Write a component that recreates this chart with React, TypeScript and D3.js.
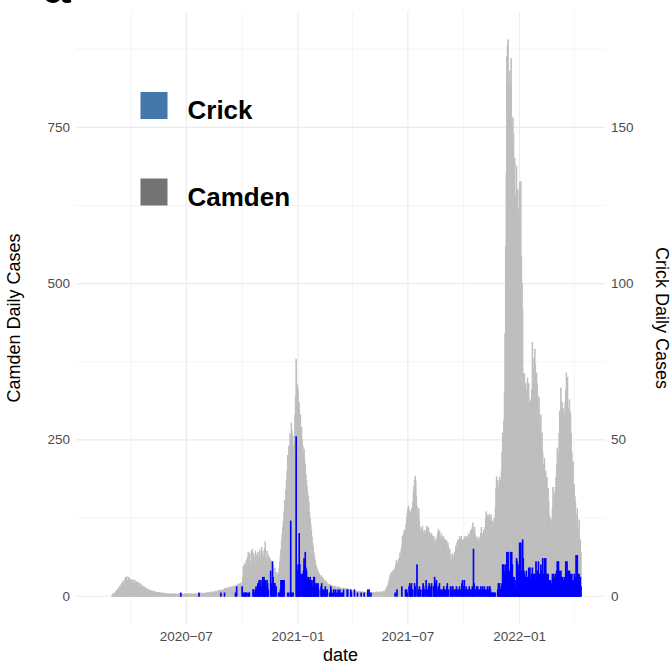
import * as d3 from 'd3'

const WIDTH = 672
const HEIGHT = 661
const PANEL = { left: 76, right: 605, top: 12, bottom: 624 }
const FONT = '"Liberation Sans", Arial, Helvetica, sans-serif'

// first reported day (zero cases) - sets the date range of the plot
const reportStart = '2020-02-10'
const camdenStart = '2020-03-01'
const crickStart = '2020-06-01'

// Camden daily cases, one row per month
const camdenCases = [
  2, 3, 2, 5, 4, 3, 7, 9, 6, 11, 8, 14, 10, 16, 12, 19, 21, 14, 24, 18, 15, 27, 30, 20, 31, 25, 19, 30, 28, 22, 26,
  27, 20, 25, 18, 26, 21, 17, 25, 19, 23, 15, 22, 17, 21, 13, 20, 14, 18, 12, 15, 16, 10, 15, 11, 13, 9, 12, 8, 11, 7,
  10, 9, 8, 9, 7, 8, 7, 6, 8, 6, 7, 5, 6, 5, 6, 4, 5, 6, 4, 5, 4, 5, 3, 4, 5, 4, 3, 4, 3, 4, 3,
  3, 4, 3, 2, 4, 3, 3, 2, 4, 3, 2, 3, 4, 2, 3, 3, 2, 3, 4, 2, 3, 2, 3, 4, 3, 2, 3, 3, 4, 3,
  3, 2, 4, 3, 3, 4, 2, 3, 4, 3, 2, 4, 3, 3, 2, 4, 3, 4, 3, 2, 4, 3, 3, 4, 5, 3, 4, 3, 5, 4, 3,
  4, 5, 3, 5, 6, 4, 5, 6, 5, 4, 6, 7, 5, 6, 5, 7, 6, 8, 5, 7, 8, 6, 9, 7, 8, 10, 7, 9, 8, 10, 9,
  10, 12, 9, 11, 13, 10, 12, 14, 11, 13, 12, 15, 11, 14, 13, 16, 12, 15, 14, 17, 13, 16, 15, 18, 20, 17, 19, 16, 21, 18,
  20, 30, 48, 38, 52, 40, 50, 58, 45, 62, 70, 50, 68, 55, 48, 72, 60, 75, 52, 68, 50, 62, 72, 48, 66, 55, 70, 50, 63, 74, 55,
  65, 78, 55, 72, 64, 52, 76, 87, 60, 55, 72, 48, 66, 52, 62, 45, 58, 42, 55, 40, 50, 38, 32, 45, 30, 28, 38, 26, 34, 37,
  45, 55, 65, 75, 90, 100, 110, 120, 135, 153, 150, 170, 185, 200, 225, 210, 240, 230, 260, 250, 277, 265, 256, 240, 230, 256, 290, 320, 379, 300, 338,
  330, 300, 310, 285, 290, 265, 270, 250, 240, 230, 235, 218, 210, 195, 185, 175, 165, 160, 150, 135, 125, 115, 106, 95, 85, 80, 70, 65, 58, 52, 48,
  45, 42, 40, 37, 35, 32, 30, 33, 28, 30, 26, 28, 24, 22, 25, 21, 23, 19, 20, 18, 17, 19, 16, 18, 15, 17, 14, 16,
  15, 13, 16, 12, 14, 11, 13, 15, 12, 14, 11, 13, 12, 10, 12, 11, 13, 10, 12, 9, 11, 10, 12, 9, 10, 8, 11, 9, 10, 8, 9,
  8, 7, 9, 6, 8, 7, 6, 8, 7, 5, 7, 6, 8, 6, 5, 7, 6, 5, 7, 6, 4, 6, 5, 7, 5, 6, 4, 6, 5, 4,
  5, 6, 4, 5, 6, 5, 4, 6, 5, 7, 5, 6, 4, 5, 7, 6, 5, 6, 7, 5, 6, 8, 7, 6, 9, 12, 10, 16, 14, 20, 25,
  30, 35, 28, 38, 33, 40, 36, 42, 38, 45, 50, 57, 48, 52, 55, 60, 58, 69, 65, 75, 80, 96, 90, 100, 105, 98, 107, 115, 125, 133,
  140, 144, 138, 130, 125, 135, 140, 130, 150, 165, 175, 185, 192, 184, 160, 144, 130, 125, 140, 120, 110, 105, 100, 108, 112, 103, 98, 105, 95, 100, 105,
  112, 108, 100, 110, 96, 102, 95, 98, 100, 92, 96, 88, 95, 80, 85, 90, 82, 95, 100, 107, 98, 104, 95, 90, 100, 96, 92, 88, 95, 90, 85,
  90, 82, 88, 80, 85, 78, 70, 75, 65, 60, 55, 68, 63, 58, 66, 70, 72, 80, 76, 85, 90, 82, 88, 95, 85, 92, 96, 88, 90, 85,
  90, 95, 88, 92, 96, 86, 90, 95, 100, 92, 98, 105, 96, 107, 110, 117, 105, 100, 110, 98, 92, 88, 95, 90, 85, 93, 88, 95, 100, 110, 95,
  100, 92, 105, 98, 110, 125, 135, 120, 130, 115, 128, 131, 120, 125, 130, 118, 107, 120, 112, 125, 115, 140, 173, 191, 180, 185, 170, 176, 190, 185,
  176, 200, 230, 261, 250, 280, 325, 420, 560, 677, 863, 880, 890, 820, 780, 840, 815, 860, 767, 725, 765, 740, 666, 700, 640, 600, 688, 571, 650, 610, 620,
  662, 600, 663, 543, 500, 458, 356, 340, 356, 318, 340, 330, 300, 349, 330, 340, 310, 300, 314, 290, 330, 406, 380, 340, 360, 395, 370, 330, 357, 340, 320,
  300, 318, 280, 261, 290, 240, 261, 230, 210, 194, 220, 190, 200, 185, 190, 170, 173, 150, 130, 117, 125, 114, 120, 140, 174, 160, 150, 165,
  174, 190, 210, 237, 220, 230, 260, 296, 280, 333, 300, 310, 275, 300, 290, 285, 310, 330, 357, 340, 350, 300, 283, 314, 295, 290, 260, 230, 200, 215, 178,
  178, 160, 150, 130, 107, 140, 110, 95, 122, 85, 90, 70,
]

// Crick daily cases, one row per month
const crickCases = [
  0, 0, 0, 0, 0, 0, 0, 0, 0, 0, 0, 0, 0, 0, 0, 0, 0, 0, 0, 0, 0, 1, 0, 0, 0, 0, 0, 0, 0, 0,
  0, 0, 0, 0, 0, 0, 0, 0, 0, 0, 0, 0, 0, 0, 0, 0, 0, 0, 0, 0, 0, 1, 0, 0, 0, 0, 0, 0, 0, 0, 0,
  0, 0, 0, 0, 0, 0, 0, 0, 0, 0, 0, 0, 0, 0, 0, 0, 0, 0, 0, 0, 0, 0, 0, 0, 0, 0, 1, 0, 0, 0, 0,
  0, 1, 0, 0, 0, 0, 0, 0, 0, 0, 0, 0, 0, 0, 0, 0, 0, 0, 0, 1, 0, 3, 0, 0, 0, 0, 0, 0, 0, 0,
  3, 0, 1, 0, 1, 1, 0, 1, 1, 0, 0, 1, 1, 0, 0, 0, 0, 0, 2, 2, 0, 1, 2, 3, 0, 2, 4, 3, 5, 4, 0,
  5, 3, 0, 6, 4, 6, 5, 5, 3, 0, 5, 4, 2, 0, 0, 0, 8, 3, 4, 11, 6, 0, 4, 4, 0, 3, 0, 0, 0, 1,
  0, 1, 2, 5, 5, 5, 4, 5, 5, 0, 0, 0, 0, 0, 1, 0, 1, 0, 0, 24, 1, 1, 0, 1, 0, 0, 0, 0, 51, 10, 8,
  0, 10, 20, 10, 0, 7, 6, 7, 0, 8, 12, 10, 14, 9, 8, 6, 5, 6, 4, 5, 6, 5, 4, 5, 0, 3, 6, 6, 4, 3, 0,
  4, 3, 4, 2, 0, 0, 0, 3, 4, 2, 2, 0, 2, 0, 3, 2, 0, 2, 0, 0, 0, 1, 0, 3, 2, 0, 1, 0,
  2, 0, 1, 2, 0, 1, 0, 2, 1, 0, 2, 0, 1, 0, 1, 0, 2, 0, 0, 0, 0, 0, 2, 2, 0, 0, 0, 0, 2, 1, 0,
  0, 0, 0, 2, 0, 0, 0, 0, 1, 0, 0, 0, 0, 0, 1, 0, 0, 0, 0, 1, 0, 0, 0, 0, 0, 2, 0, 2, 0, 0,
  1, 0, 0, 0, 0, 0, 0, 0, 0, 0, 0, 0, 0, 0, 0, 0, 0, 0, 0, 0, 0, 0, 0, 0, 0, 0, 0, 0, 0, 0, 0,
  0, 0, 0, 0, 0, 0, 0, 0, 0, 1, 0, 0, 2, 0, 0, 0, 0, 0, 0, 0, 3, 0, 0, 0, 0, 0, 2, 0, 2, 1,
  0, 0, 3, 4, 2, 3, 4, 0, 2, 0, 0, 4, 3, 0, 0, 10, 0, 2, 0, 3, 0, 2, 0, 0, 2, 4, 3, 0, 2, 0, 5,
  0, 2, 0, 3, 4, 0, 2, 3, 4, 0, 0, 3, 2, 6, 4, 3, 5, 2, 0, 3, 0, 4, 2, 0, 2, 0, 2, 0, 3, 2, 0,
  2, 0, 3, 4, 0, 2, 0, 0, 3, 2, 0, 3, 3, 0, 2, 0, 2, 0, 3, 2, 0, 2, 0, 3, 0, 2, 0, 4, 5, 3,
  0, 5, 2, 0, 3, 0, 2, 2, 0, 3, 0, 2, 2, 0, 3, 2, 15, 4, 0, 2, 0, 3, 0, 3, 2, 0, 2, 0, 3, 0, 2,
  3, 0, 2, 3, 0, 2, 0, 2, 3, 0, 2, 3, 3, 2, 0, 1, 1, 1, 1, 1, 0, 1, 0, 0, 0, 2, 4, 3, 4, 2,
  2, 3, 4, 10, 10, 8, 7, 10, 7, 8, 14, 12, 14, 8, 6, 8, 14, 12, 14, 10, 6, 4, 6, 3, 2, 5, 12, 11, 5, 8, 10,
  17, 10, 17, 6, 8, 18, 12, 8, 7, 5, 6, 8, 5, 6, 4, 9, 7, 9, 5, 6, 7, 9, 5, 7, 4, 7, 5, 11, 6, 8, 5,
  11, 6, 7, 5, 10, 6, 8, 12, 5, 7, 12, 6, 12, 4, 7, 5, 7, 3, 5, 4, 5, 3, 4, 7, 5, 7, 4, 6,
  7, 5, 8, 11, 6, 11, 7, 8, 5, 8, 6, 4, 6, 5, 3, 6, 4, 11, 7, 11, 5, 8, 6, 8, 4, 7, 5, 7, 4, 5, 3,
  7, 4, 6, 13, 5, 13, 7, 5, 7, 4, 6, 3,
]

// secondary axis: Crick = Camden / 5
const crickRatio = 5
const camdenTicks = [0, 250, 500, 750]
const camdenMinor = [125, 375, 625, 875]
const crickTicks = [0, 50, 100, 150]
const dateTicks = ['2020-07-01', '2021-01-01', '2021-07-01', '2022-01-01']
const dateMinor = ['2020-04-01', '2020-10-01', '2021-04-01', '2021-10-01', '2022-04-01']

const legendItems = [
  { label: 'Crick', color: '#4477AA' },
  { label: 'Camden', color: '#737373' },
]

const parse = d3.utcParse('%Y-%m-%d')
const fmt = d3.utcFormat('%Y-%m')

function series(start: string, values: number[]) {
  const s = parse(start) as Date
  return values.map((v, i) => ({ date: d3.utcDay.offset(s, i), value: v }))
}

export default function App() {
  const camden = series(camdenStart, camdenCases)
  const crick = series(crickStart, crickCases)

  const lo = (parse(reportStart) as Date).getTime()
  const hi = Math.max(camden[camden.length - 1].date.getTime(), crick[crick.length - 1].date.getTime())
  const pad = (hi - lo) * 0.05
  const x = d3
    .scaleUtc()
    .domain([new Date(lo - pad), new Date(hi + pad)])
    .range([PANEL.left, PANEL.right])

  const maxV = Math.max(d3.max(camdenCases) ?? 0, (d3.max(crickCases) ?? 0) * crickRatio)
  const y = d3
    .scaleLinear()
    .domain([-0.05 * maxV, 1.05 * maxV])
    .range([PANEL.bottom, PANEL.top])

  const dayPx = x(new Date(lo + 86400000)) - x(new Date(lo))
  const barW = dayPx * 0.9
  const midX = (PANEL.left + PANEL.right) / 2
  const midY = (PANEL.top + PANEL.bottom) / 2

  return (
    <svg
      width={WIDTH}
      height={HEIGHT}
      style={{ position: 'absolute', left: 0, top: 0, background: '#fff' }}
      fontFamily={FONT}
    >
      <rect width={WIDTH} height={HEIGHT} fill="#fff" />
      <text x={43} y={3} fontSize={50} fontWeight="bold" fill="#000">
        a
      </text>

      {/* grid */}
      <g stroke="#EBEBEB" fill="none">
        {camdenMinor.map((v) => (
          <line key={'ym' + v} x1={PANEL.left} x2={PANEL.right} y1={y(v)} y2={y(v)} strokeWidth={0.55} />
        ))}
        {dateMinor.map((d) => (
          <line key={'xm' + d} x1={x(parse(d) as Date)} x2={x(parse(d) as Date)} y1={PANEL.top} y2={PANEL.bottom} strokeWidth={0.55} />
        ))}
        {camdenTicks.map((v) => (
          <line key={'y' + v} x1={PANEL.left} x2={PANEL.right} y1={y(v)} y2={y(v)} strokeWidth={1.1} />
        ))}
        {dateTicks.map((d) => (
          <line key={'x' + d} x1={x(parse(d) as Date)} x2={x(parse(d) as Date)} y1={PANEL.top} y2={PANEL.bottom} strokeWidth={1.1} />
        ))}
      </g>

      {/* Camden bars */}
      <g fill="#BEBEBE" stroke="#BEBEBE" strokeWidth={0.9}>
        {camden
          .filter((d) => d.value > 0)
          .map((d, i) => (
            <rect key={i} x={x(d.date) - barW / 2} width={barW} y={y(d.value)} height={y(0) - y(d.value)} />
          ))}
      </g>

      {/* Crick bars */}
      <g fill="#0000FF" stroke="#0000FF" strokeWidth={1.07}>
        {crick
          .filter((d) => d.value > 0)
          .map((d, i) => (
            <rect
              key={i}
              x={x(d.date) - barW / 2}
              width={barW}
              y={y(d.value * crickRatio)}
              height={y(0) - y(d.value * crickRatio)}
            />
          ))}
      </g>

      {/* axes */}
      <g fontSize={13.5} fill="#4D4D4D">
        {camdenTicks.map((v) => (
          <text key={v} x={PANEL.left - 6} y={y(v)} textAnchor="end" dominantBaseline="central">
            {v}
          </text>
        ))}
        {crickTicks.map((v) => (
          <text key={v} x={PANEL.right + 6} y={y(v * crickRatio)} textAnchor="start" dominantBaseline="central">
            {v}
          </text>
        ))}
        {dateTicks.map((d) => (
          <text key={d} x={x(parse(d) as Date)} y={641} textAnchor="middle">
            {fmt(parse(d) as Date).replace('-', '\u2212')}
          </text>
        ))}
      </g>

      <g fontSize={18} fill="#000">
        <text transform={`translate(20,${midY}) rotate(-90)`} textAnchor="middle">
          Camden Daily Cases
        </text>
        <text transform={`translate(656,${midY}) rotate(90)`} textAnchor="middle">
          Crick Daily Cases
        </text>
        <text x={midX} y={661} textAnchor="middle">
          date
        </text>
      </g>

      {/* legend */}
      {legendItems.map((item, i) => (
        <g key={item.label} transform={`translate(140.5,${92 + i * 86.5})`}>
          <rect width={27} height={27} fill={item.color} />
          <text x={47} y={27} fontSize={26} fontWeight="bold" fill="#000">
            {item.label}
          </text>
        </g>
      ))}
    </svg>
  )
}
